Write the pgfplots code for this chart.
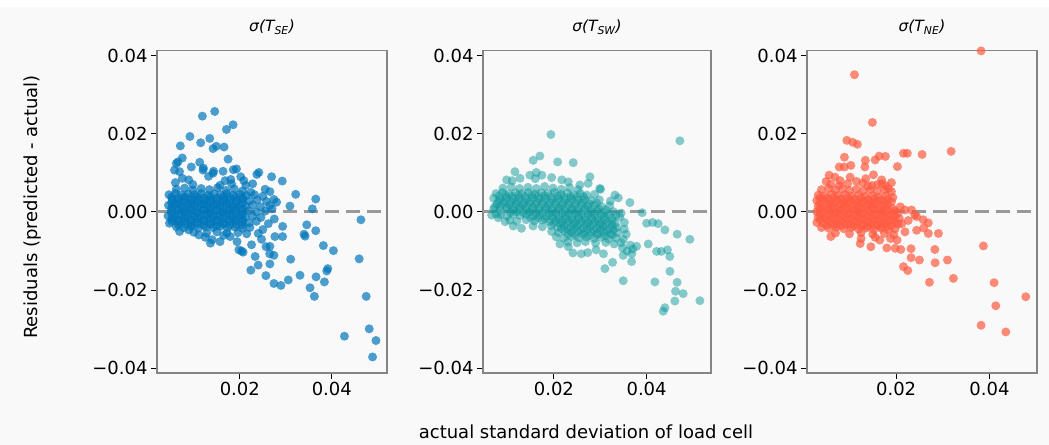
\documentclass[border=0pt]{standalone}
\usepackage{fontspec}
\setmainfont{DejaVu Sans}
\usepackage{pgfplots}
\pgfplotsset{compat=1.18}
\definecolor{bg}{HTML}{F9F9F9}
\definecolor{frame}{HTML}{858585}
\definecolor{cblue}{HTML}{0077BB}
\definecolor{cteal}{HTML}{0E9A9D}
\definecolor{cred}{HTML}{FF5A40}
\definecolor{zgray}{HTML}{999999}
\newcommand\lbl{\fontsize{18bp}{21bp}\selectfont}
\newcommand\ttl{\fontsize{15.5bp}{18bp}\selectfont}
\pgfplotsset{
  panel/.style={
    scale only axis, height=322.5bp, anchor=south west,
    ymin=-0.0412, ymax=0.0413,
    scaled ticks=false,
    axis background/.style={fill=bg},
    axis line style={color=frame, line width=1.4bp},
    every tick/.style={black, line width=1bp},
    tick align=outside, major tick length=6bp,
    xtick={0.02,0.04}, xticklabels={0.02,0.04},
    ytick={-0.04,-0.02,0,0.02,0.04},
    yticklabels={−0.04,−0.02,0.00,0.02,0.04},
    tick label style={font=\lbl},
    xtick pos=bottom, ytick pos=left,
    title style={font=\ttl, at={(0.5,1)}, anchor=center, yshift=17.5bp},
    clip=true,
  },
  dots/.style 2 args={only marks, color=#1, mark=*, mark size=4.5bp,
    mark options={draw opacity=0, line width=0pt, fill=#1, fill opacity=#2}},
  zero/.style={zgray, line width=3bp, dash pattern=on 14bp off 7bp},
}
\begin{document}
\begin{tikzpicture}[x=1bp,y=1bp]
\fill[bg] (0,0) rectangle (1049,445);
\fill[white] (0,438) rectangle (1049,445);

\begin{axis}[panel, at={(157bp,72bp)}, width=230bp, xmin=0.002, xmax=0.052,
  title={\itshape σ(T\textsubscript{SE})}]
\addplot[dots={cblue}{0.7}] coordinates {
(0.0062,0.0058)(0.0080,0.0061)(0.0098,0.0056)(0.0116,0.0060)(0.0134,0.0057)(0.0152,0.0062)(0.0170,0.0055)(0.0188,0.0059)(0.0206,0.0054)(0.0224,0.0050)
(0.0046,0.0044)(0.0060,0.0047)(0.0074,0.0043)(0.0088,0.0046)(0.0102,0.0044)(0.0116,0.0047)(0.0130,0.0043)(0.0144,0.0046)(0.0158,0.0044)(0.0172,0.0047)(0.0186,0.0043)(0.0200,0.0045)(0.0214,0.0042)(0.0232,0.0044)(0.0250,0.0040)
(0.0053,0.0031)(0.0067,0.0029)(0.0081,0.0032)(0.0095,0.0030)(0.0109,0.0033)(0.0123,0.0029)(0.0137,0.0031)(0.0151,0.0028)(0.0165,0.0032)(0.0179,0.0030)(0.0193,0.0029)(0.0207,0.0033)(0.0221,0.0028)(0.0238,0.0031)(0.0258,0.0027)
(0.0045,0.0017)(0.0059,0.0019)(0.0073,0.0015)(0.0087,0.0018)(0.0101,0.0016)(0.0115,0.0019)(0.0129,0.0015)(0.0143,0.0018)(0.0157,0.0016)(0.0171,0.0019)(0.0185,0.0014)(0.0199,0.0017)(0.0213,0.0015)(0.0228,0.0018)(0.0245,0.0013)(0.0265,0.0016)
(0.0051,0.0003)(0.0065,0.0005)(0.0079,0.0002)(0.0093,0.0004)(0.0107,0.0001)(0.0121,0.0005)(0.0135,0.0002)(0.0149,0.0004)(0.0163,0.0001)(0.0177,0.0003)(0.0191,0.0005)(0.0205,0.0001)(0.0219,0.0003)(0.0236,0.0000)(0.0255,0.0002)
(0.0044,-0.0010)(0.0058,-0.0012)(0.0072,-0.0009)(0.0086,-0.0013)(0.0100,-0.0010)(0.0114,-0.0012)(0.0128,-0.0009)(0.0142,-0.0013)(0.0156,-0.0011)(0.0170,-0.0009)(0.0184,-0.0012)(0.0198,-0.0010)(0.0212,-0.0013)(0.0228,-0.0011)(0.0246,-0.0014)
(0.0052,-0.0024)(0.0066,-0.0026)(0.0080,-0.0023)(0.0094,-0.0027)(0.0108,-0.0025)(0.0122,-0.0023)(0.0136,-0.0026)(0.0150,-0.0024)(0.0164,-0.0027)(0.0178,-0.0025)(0.0192,-0.0023)(0.0206,-0.0026)(0.0220,-0.0028)(0.0236,-0.0024)
(0.0062,-0.0038)(0.0078,-0.0040)(0.0094,-0.0037)(0.0110,-0.0041)(0.0126,-0.0038)(0.0142,-0.0040)(0.0158,-0.0037)(0.0174,-0.0041)(0.0190,-0.0039)(0.0206,-0.0042)(0.0222,-0.0040)
(0.0100,-0.0052)(0.0128,-0.0054)(0.0150,-0.0051)(0.0172,-0.0054)(0.0196,-0.0053)(0.0215,-0.0056)
(0.0262,-0.0030)(0.0250,-0.0045)(0.0270,0.0008)(0.0240,-0.0055)(0.0275,-0.0018)
(0.0052,0.0038)(0.0066,0.0036)(0.0080,0.0039)(0.0094,0.0037)(0.0108,0.0039)(0.0122,0.0036)(0.0136,0.0038)(0.0150,0.0035)(0.0164,0.0039)(0.0178,0.0037)(0.0192,0.0038)(0.0206,0.0036)
(0.0052,0.0024)(0.0066,0.0022)(0.0080,0.0025)(0.0094,0.0023)(0.0108,0.0025)(0.0122,0.0022)(0.0136,0.0024)(0.0150,0.0021)(0.0164,0.0025)(0.0178,0.0023)(0.0192,0.0024)(0.0206,0.0022)
(0.0052,0.0010)(0.0066,0.0008)(0.0080,0.0011)(0.0094,0.0009)(0.0108,0.0011)(0.0122,0.0008)(0.0136,0.0010)(0.0150,0.0007)(0.0164,0.0011)(0.0178,0.0009)(0.0192,0.0010)(0.0206,0.0008)
(0.0052,-0.0004)(0.0066,-0.0006)(0.0080,-0.0003)(0.0094,-0.0005)(0.0108,-0.0003)(0.0122,-0.0006)(0.0136,-0.0004)(0.0150,-0.0007)(0.0164,-0.0003)(0.0178,-0.0005)(0.0192,-0.0004)(0.0206,-0.0006)
(0.0052,-0.0018)(0.0066,-0.0020)(0.0080,-0.0017)(0.0094,-0.0019)(0.0108,-0.0017)(0.0122,-0.0020)(0.0136,-0.0018)(0.0150,-0.0021)(0.0164,-0.0017)(0.0178,-0.0019)(0.0192,-0.0018)(0.0206,-0.0020)
(0.0066,-0.0032)(0.0080,-0.0031)(0.0094,-0.0033)(0.0108,-0.0031)(0.0122,-0.0034)(0.0136,-0.0032)(0.0150,-0.0035)(0.0164,-0.0031)(0.0178,-0.0033)(0.0192,-0.0032)(0.0206,-0.0034)
(0.01455,0.0257)(0.01186,0.0245)(0.01854,0.0223)(0.0171,0.0211)(0.00916,0.0193)(0.01346,0.0188)(0.0115,0.0177)(0.00707,0.0169)(0.01658,0.0166)(0.01418,0.0162)(0.0149,0.0168)(0.01745,0.0135)(0.0075,0.0138)(0.01128,0.0127)(0.00654,0.0128)(0.0062,0.0124)(0.00946,0.0115)(0.01928,0.0110)(0.0186,0.0108)(0.01636,0.0104)(0.01418,0.0099)(0.012,0.0107)(0.02414,0.0101)(0.0237,0.0096)(0.02691,0.0090)(0.02923,0.0079)(0.01804,0.0083)(0.02087,0.0080)(0.03215,0.0045)(0.03651,0.0033)(0.03577,0.0008)(0.0309,0.0015)(0.02654,0.0052)(0.0255,0.0058)(0.02742,0.0032)(0.0280,0.0025)
(0.0058,0.0107)(0.0069,0.0103)(0.0075,0.0086)(0.0089,0.0082)(0.0121,0.0112)(0.0143,0.0104)(0.0132,0.0091)(0.0168,0.0080)(0.0157,0.0068)(0.0182,0.0072)(0.0098,0.0070)(0.0060,0.0075)(0.0213,0.0068)(0.0228,0.0072)(0.0202,0.0090)
(0.04633,-0.0020)(0.04595,-0.0120)(0.04748,-0.0216)(0.04814,-0.0299)(0.0496,-0.0329)(0.04886,-0.0371)(0.04275,-0.0318)(0.04035,-0.0099)(0.03817,-0.0086)(0.03651,-0.0048)(0.03455,-0.0033)(0.03396,-0.0057)(0.0342,-0.0062)(0.02931,-0.0037)(0.0293,-0.0063)(0.02763,-0.0063)(0.02654,-0.0088)(0.02742,-0.0111)(0.0265,-0.0107)(0.03106,-0.0121)(0.02654,-0.0133)(0.02334,-0.0114)(0.024,-0.0136)(0.0224,-0.0149)(0.02567,-0.0163)(0.02742,-0.0183)(0.02894,-0.0188)(0.03054,-0.0174)(0.03309,-0.0162)(0.03658,-0.0166)(0.03839,-0.0179)(0.03913,-0.0145)(0.0389,-0.0151)(0.03527,-0.0194)(0.03621,-0.0216)(0.02072,-0.0103)(0.0204,-0.0100)(0.02255,-0.0084)(0.02473,-0.0070)(0.0257,-0.0089)
(0.0047,-0.0029)(0.0069,-0.0050)(0.0089,-0.0046)(0.0111,-0.0059)(0.0136,-0.0080)(0.0140,-0.0071)(0.0157,-0.0076)(0.0179,-0.0063)(0.0194,-0.0076)(0.0198,-0.0097)(0.0165,-0.0060)(0.0125,-0.0065)
};
\addplot[zero] coordinates {(0.002,0) (0.052,0)};
\end{axis}

\begin{axis}[panel, at={(483bp,72bp)}, width=228bp, xmin=0.0047, xmax=0.0539,
  title={\itshape σ(T\textsubscript{SW})}]
\addplot[dots={cteal}{0.5}] coordinates {
(0.0090,0.0061)(0.0108,0.0064)(0.0126,0.0060)(0.0144,0.0063)(0.0162,0.0060)(0.0180,0.0065)(0.0198,0.0061)(0.0216,0.0058)(0.0234,0.0062)(0.0252,0.0057)
(0.0075,0.0047)(0.0089,0.0050)(0.0103,0.0046)(0.0117,0.0049)(0.0131,0.0047)(0.0145,0.0050)(0.0159,0.0046)(0.0173,0.0049)(0.0187,0.0047)(0.0201,0.0050)(0.0215,0.0045)(0.0229,0.0048)(0.0243,0.0044)(0.0257,0.0047)(0.0271,0.0043)(0.0288,0.0045)
(0.0070,0.0035)(0.0084,0.0032)(0.0098,0.0036)(0.0112,0.0033)(0.0126,0.0035)(0.0140,0.0032)(0.0154,0.0036)(0.0168,0.0033)(0.0182,0.0035)(0.0196,0.0031)(0.0210,0.0034)(0.0224,0.0030)(0.0238,0.0033)(0.0252,0.0030)(0.0266,0.0032)(0.0280,0.0029)(0.0298,0.0031)(0.0322,0.0028)
(0.0077,0.0020)(0.0091,0.0022)(0.0105,0.0019)(0.0119,0.0021)(0.0133,0.0018)(0.0147,0.0022)(0.0161,0.0019)(0.0175,0.0021)(0.0189,0.0017)(0.0203,0.0020)(0.0217,0.0016)(0.0231,0.0019)(0.0245,0.0015)(0.0259,0.0018)(0.0273,0.0014)(0.0287,0.0017)(0.0303,0.0013)(0.0320,0.0016)
(0.0070,0.0007)(0.0084,0.0004)(0.0098,0.0008)(0.0112,0.0005)(0.0126,0.0007)(0.0140,0.0004)(0.0154,0.0006)(0.0168,0.0003)(0.0182,0.0006)(0.0196,0.0002)(0.0210,0.0005)(0.0224,0.0001)(0.0238,0.0004)(0.0252,0.0000)(0.0266,0.0003)(0.0280,-0.0001)(0.0294,0.0002)(0.0310,-0.0002)(0.0328,0.0001)(0.0345,-0.0003)
(0.0085,-0.0007)(0.0099,-0.0010)(0.0113,-0.0006)(0.0127,-0.0009)(0.0141,-0.0007)(0.0155,-0.0010)(0.0169,-0.0008)(0.0183,-0.0011)(0.0197,-0.0008)(0.0211,-0.0012)(0.0225,-0.0009)(0.0239,-0.0013)(0.0253,-0.0010)(0.0267,-0.0014)(0.0281,-0.0011)(0.0295,-0.0015)(0.0309,-0.0012)(0.0325,-0.0016)(0.0342,-0.0013)
(0.0105,-0.0021)(0.0120,-0.0024)(0.0140,-0.0020)(0.0158,-0.0023)(0.0175,-0.0021)(0.0190,-0.0025)(0.0204,-0.0022)(0.0218,-0.0026)(0.0232,-0.0023)(0.0246,-0.0027)(0.0260,-0.0024)(0.0274,-0.0028)(0.0288,-0.0025)(0.0302,-0.0029)(0.0316,-0.0026)(0.0332,-0.0030)(0.0352,-0.0027)
(0.0155,-0.0036)(0.0175,-0.0038)(0.0194,-0.0035)(0.0208,-0.0039)(0.0222,-0.0036)(0.0236,-0.0040)(0.0250,-0.0037)(0.0264,-0.0041)(0.0278,-0.0038)(0.0292,-0.0042)(0.0306,-0.0039)(0.0320,-0.0043)(0.0336,-0.0040)(0.0352,-0.0044)
(0.0195,-0.0050)(0.0210,-0.0053)(0.0224,-0.0049)(0.0238,-0.0052)(0.0252,-0.0050)(0.0266,-0.0054)(0.0280,-0.0051)(0.0294,-0.0055)(0.0308,-0.0052)(0.0322,-0.0056)(0.0338,-0.0053)(0.0356,-0.0057)
(0.0205,-0.0064)(0.0222,-0.0067)(0.0238,-0.0063)(0.0254,-0.0066)(0.0270,-0.0064)(0.0286,-0.0068)(0.0302,-0.0065)(0.0318,-0.0069)(0.0334,-0.0066)(0.0350,-0.0070)
(0.0230,-0.0077)(0.0250,-0.0079)(0.0268,-0.0076)(0.0290,-0.0080)(0.0312,-0.0078)(0.0330,-0.0082)(0.0345,-0.0079)(0.0365,-0.0085)(0.0370,-0.0095)(0.0358,-0.0100)(0.0348,-0.0092)
(0.0080,-0.0015)(0.0095,-0.0025)(0.0075,-0.0005)
(0.0082,0.0041)(0.0096,0.0042)(0.0110,0.0040)(0.0124,0.0042)(0.0138,0.0040)(0.0152,0.0043)(0.0166,0.0040)(0.0180,0.0042)(0.0194,0.0039)(0.0208,0.0041)(0.0222,0.0038)(0.0236,0.0040)(0.0250,0.0037)(0.0264,0.0039)
(0.0080,0.0027)(0.0094,0.0028)(0.0108,0.0026)(0.0122,0.0028)(0.0136,0.0025)(0.0150,0.0027)(0.0164,0.0025)(0.0178,0.0027)(0.0192,0.0024)(0.0206,0.0026)(0.0220,0.0023)(0.0234,0.0025)(0.0248,0.0022)(0.0262,0.0024)(0.0276,0.0021)(0.0292,0.0023)
(0.0084,0.0013)(0.0098,0.0014)(0.0112,0.0012)(0.0126,0.0014)(0.0140,0.0011)(0.0154,0.0013)(0.0168,0.0010)(0.0182,0.0012)(0.0196,0.0009)(0.0210,0.0011)(0.0224,0.0008)(0.0238,0.0010)(0.0252,0.0007)(0.0266,0.0009)(0.0280,0.0006)(0.0296,0.0008)(0.0312,0.0005)
(0.0106,-0.0001)(0.0120,0.0000)(0.0134,-0.0002)(0.0148,0.0000)(0.0162,-0.0003)(0.0176,-0.0001)(0.0190,-0.0004)(0.0204,-0.0002)(0.0218,-0.0005)(0.0232,-0.0003)(0.0246,-0.0006)(0.0260,-0.0004)(0.0274,-0.0007)(0.0288,-0.0005)(0.0302,-0.0008)(0.0318,-0.0006)(0.0334,-0.0009)
(0.0150,-0.0015)(0.0166,-0.0016)(0.0182,-0.0018)(0.0198,-0.0016)(0.0212,-0.0019)(0.0226,-0.0017)(0.0240,-0.0020)(0.0254,-0.0018)(0.0268,-0.0021)(0.0282,-0.0019)(0.0296,-0.0022)(0.0310,-0.0020)(0.0326,-0.0023)
(0.0200,-0.0029)(0.0214,-0.0031)(0.0228,-0.0029)(0.0242,-0.0032)(0.0256,-0.0030)(0.0270,-0.0033)(0.0284,-0.0031)(0.0298,-0.0034)(0.0312,-0.0032)(0.0326,-0.0035)
(0.0216,-0.0043)(0.0230,-0.0045)(0.0244,-0.0043)(0.0258,-0.0046)(0.0272,-0.0044)(0.0286,-0.0047)(0.0300,-0.0045)(0.0314,-0.0048)(0.0328,-0.0046)
(0.0230,-0.0057)(0.0246,-0.0059)(0.0262,-0.0057)(0.0278,-0.0060)(0.0294,-0.0058)(0.0310,-0.0061)(0.0326,-0.0059)
(0.01935,0.0198)(0.04718,0.0182)(0.01553,0.0132)(0.01698,0.0143)(0.0208,0.0128)(0.02417,0.0126)(0.01159,0.0103)(0.00979,0.0082)(0.0162,0.0101)(0.02777,0.0090)(0.03007,0.0058)(0.03316,0.0043)(0.0339,0.0036)(0.0364,0.0024)(0.00656,-0.0008)(0.0072,0.0013)(0.03905,-0.0002)(0.0400,-0.0029)(0.0413,-0.0027)(0.0425,-0.0030)(0.04395,-0.0046)(0.0466,-0.0057)(0.04934,-0.0070)(0.04216,-0.0101)(0.0432,-0.0101)(0.0445,-0.0097)(0.0450,-0.0114)(0.04035,-0.0082)(0.03784,-0.0088)(0.03676,-0.0127)(0.04503,-0.0152)(0.04179,-0.0179)(0.0466,-0.0180)(0.04625,-0.0203)(0.0479,-0.0209)(0.0461,-0.0228)(0.04395,-0.0245)(0.0436,-0.0254)(0.0515,-0.0227)(0.03496,-0.0176)(0.0310,-0.0145)(0.03266,-0.0129)(0.0213,-0.0082)(0.0231,-0.0089)(0.0241,-0.0105)(0.0259,-0.0107)(0.0273,-0.0104)(0.0291,-0.0097)(0.0307,-0.0107)(0.03496,-0.0111)(0.0368,-0.0107)(0.01122,-0.0036)(0.0130,-0.0042)
(0.0127,0.0086)(0.0148,0.0094)(0.0174,0.0094)(0.0195,0.0088)(0.0217,0.0082)(0.0231,0.0077)(0.0256,0.0069)(0.0274,0.0073)(0.0299,0.0060)(0.0110,0.0080)(0.0160,0.0085)
};
\addplot[zero] coordinates {(0.0047,0) (0.0539,0)};
\end{axis}

\begin{axis}[panel, at={(807bp,72bp)}, width=230bp, xmin=0.0009, xmax=0.0502,
  title={\itshape σ(T\textsubscript{NE})}]
\addplot[dots={cred}{0.7}] coordinates {
(0.0060,0.0071)(0.0078,0.0068)(0.0096,0.0072)(0.0140,0.0066)(0.0160,0.0070)(0.0178,0.0067)
(0.0040,0.0057)(0.0055,0.0060)(0.0070,0.0056)(0.0085,0.0059)(0.0100,0.0055)(0.0115,0.0058)(0.0130,0.0054)(0.0145,0.0057)(0.0160,0.0053)(0.0175,0.0056)(0.0190,0.0052)
(0.0033,0.0043)(0.0047,0.0041)(0.0062,0.0045)(0.0076,0.0042)(0.0091,0.0044)(0.0105,0.0040)(0.0120,0.0043)(0.0134,0.0039)(0.0149,0.0042)(0.0163,0.0038)(0.0178,0.0041)(0.0193,0.0037)
(0.0030,0.0029)(0.0044,0.0031)(0.0059,0.0027)(0.0073,0.0030)(0.0088,0.0026)(0.0102,0.0029)(0.0117,0.0025)(0.0131,0.0028)(0.0146,0.0024)(0.0160,0.0027)(0.0175,0.0023)(0.0190,0.0026)
(0.0033,0.0015)(0.0047,0.0013)(0.0062,0.0016)(0.0076,0.0012)(0.0091,0.0015)(0.0105,0.0011)(0.0120,0.0014)(0.0134,0.0010)(0.0149,0.0013)(0.0163,0.0009)(0.0178,0.0012)(0.0193,0.0008)
(0.0030,0.0001)(0.0044,-0.0001)(0.0059,0.0002)(0.0073,-0.0002)(0.0088,0.0001)(0.0102,-0.0003)(0.0117,0.0000)(0.0131,-0.0004)(0.0146,-0.0001)(0.0160,-0.0005)(0.0175,-0.0002)(0.0190,-0.0006)(0.0204,-0.0003)
(0.0033,-0.0013)(0.0047,-0.0015)(0.0062,-0.0012)(0.0076,-0.0016)(0.0091,-0.0013)(0.0105,-0.0017)(0.0120,-0.0014)(0.0134,-0.0018)(0.0149,-0.0015)(0.0163,-0.0019)(0.0178,-0.0016)(0.0193,-0.0020)(0.0207,-0.0017)
(0.0030,-0.0027)(0.0044,-0.0029)(0.0059,-0.0026)(0.0073,-0.0030)(0.0088,-0.0027)(0.0102,-0.0031)(0.0117,-0.0028)(0.0131,-0.0032)(0.0146,-0.0029)(0.0160,-0.0033)(0.0175,-0.0030)(0.0190,-0.0034)(0.0204,-0.0031)
(0.0040,-0.0040)(0.0056,-0.0042)(0.0072,-0.0039)(0.0088,-0.0043)(0.0104,-0.0040)(0.0120,-0.0044)(0.0136,-0.0041)(0.0152,-0.0045)(0.0168,-0.0042)(0.0184,-0.0046)(0.0198,-0.0043)
(0.0070,-0.0054)(0.0100,-0.0056)(0.0125,-0.0053)(0.0150,-0.0057)(0.0175,-0.0055)(0.0195,-0.0058)(0.0060,-0.0063)(0.0125,-0.0068)
(0.0080,0.0080)(0.0115,0.0078)(0.0050,0.0078)(0.0135,0.0085)(0.0169,0.0082)(0.0190,0.0075)
(0.0037,0.0036)(0.0052,0.0035)(0.0066,0.0037)(0.0081,0.0034)(0.0095,0.0036)(0.0110,0.0033)(0.0124,0.0035)(0.0139,0.0032)(0.0153,0.0034)(0.0168,0.0031)(0.0182,0.0033)
(0.0037,0.0022)(0.0052,0.0021)(0.0066,0.0023)(0.0081,0.0020)(0.0095,0.0022)(0.0110,0.0019)(0.0124,0.0021)(0.0139,0.0018)(0.0153,0.0020)(0.0168,0.0017)(0.0182,0.0019)
(0.0037,0.0008)(0.0052,0.0007)(0.0066,0.0009)(0.0081,0.0006)(0.0095,0.0008)(0.0110,0.0005)(0.0124,0.0007)(0.0139,0.0004)(0.0153,0.0006)(0.0168,0.0003)(0.0182,0.0005)(0.0197,0.0002)
(0.0037,-0.0006)(0.0052,-0.0007)(0.0066,-0.0005)(0.0081,-0.0008)(0.0095,-0.0006)(0.0110,-0.0009)(0.0124,-0.0007)(0.0139,-0.0010)(0.0153,-0.0008)(0.0168,-0.0011)(0.0182,-0.0009)(0.0197,-0.0012)
(0.0037,-0.0020)(0.0052,-0.0021)(0.0066,-0.0019)(0.0081,-0.0022)(0.0095,-0.0020)(0.0110,-0.0023)(0.0124,-0.0021)(0.0139,-0.0024)(0.0153,-0.0022)(0.0168,-0.0025)(0.0182,-0.0023)(0.0197,-0.0026)
(0.0052,-0.0034)(0.0066,-0.0033)(0.0081,-0.0035)(0.0095,-0.0033)(0.0110,-0.0036)(0.0124,-0.0034)(0.0139,-0.0037)(0.0153,-0.0035)(0.0168,-0.0038)(0.0182,-0.0036)
(0.03821,0.0412)(0.01107,0.0351)(0.01492,0.0229)(0.00944,0.0183)(0.0107,0.0178)(0.0117,0.0173)(0.03178,0.0155)(0.02157,0.0150)(0.0224,0.0150)(0.02557,0.0147)(0.00892,0.0140)(0.01636,0.0143)(0.0177,0.0142)(0.0155,0.0133)(0.0134,0.0132)(0.02028,0.0116)(0.0078,0.0115)(0.0089,0.0115)(0.0103,0.0119)(0.0133,0.0115)
(0.00564,0.0094)(0.0069,0.0089)(0.01514,0.0095)(0.01014,0.0089)(0.01286,0.0074)(0.0148,0.0068)(0.01694,0.0072)(0.01835,0.0060)
(0.03871,-0.0087)(0.0410,-0.0181)(0.04136,-0.0240)(0.03821,-0.0290)(0.04351,-0.0307)(0.04779,-0.0217)(0.02714,-0.0180)(0.03228,-0.0170)(0.02836,-0.0130)(0.0310,-0.0123)(0.0283,-0.0096)(0.0250,-0.0123)(0.0232,-0.0117)(0.0232,-0.0094)(0.02157,-0.0140)(0.0225,-0.0150)(0.0198,-0.0093)(0.0210,-0.0096)(0.0180,-0.0092)(0.01458,-0.0089)(0.0123,-0.0081)(0.02907,-0.0055)(0.0269,-0.0055)(0.0259,-0.0041)(0.0244,-0.0047)(0.0219,-0.0051)(0.0202,-0.0072)(0.0188,-0.0068)(0.0165,-0.0072)(0.0155,-0.0065)
(0.0209,0.0013)(0.0219,0.0005)(0.0233,0.0005)(0.0244,-0.0012)(0.0258,-0.0020)(0.0269,-0.0028)(0.0226,-0.0022)(0.0212,-0.0030)(0.0240,-0.0008)
};
\addplot[zero] coordinates {(0.0009,0) (0.0502,0)};
\end{axis}

\node[rotate=90, font=\lbl] at (33,238) {Residuals (predicted - actual)};
\node[font=\lbl] at (586,13) {actual standard deviation of load cell};
\end{tikzpicture}
\end{document}
